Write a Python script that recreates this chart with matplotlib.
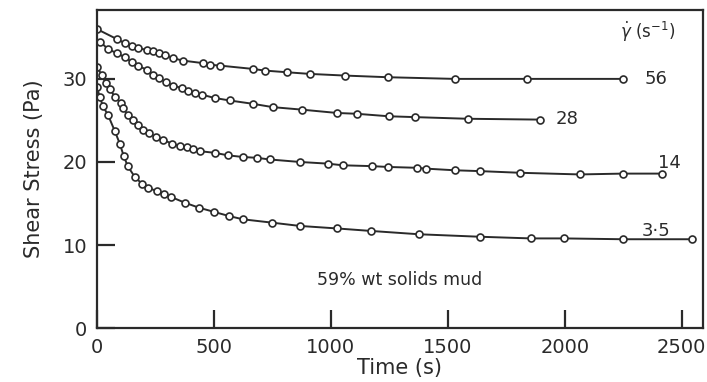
import numpy as np
import matplotlib
matplotlib.use("Agg")
import matplotlib.pyplot as plt

# data (time in s, shear stress in Pa)
t_56 = [0, 85, 120, 150, 175, 213, 240, 265, 290, 325, 368, 453, 483, 526, 667, 718,
        812, 910, 1060, 1244, 1530, 1838, 2248]
s_56 = [36.0, 34.8, 34.3, 34.0, 33.7, 33.5, 33.3, 33.1, 32.9, 32.5, 32.2, 31.9, 31.7,
        31.6, 31.2, 31.0, 30.8, 30.6, 30.4, 30.2, 30.0, 30.0, 30.0]

t_28 = [13, 47, 85, 120, 150, 175, 213, 240, 265, 295, 325, 363, 389, 419, 449, 504,
        568, 667, 752, 876, 1026, 1111, 1248, 1359, 1585, 1893]
s_28 = [34.5, 33.6, 33.1, 32.6, 32.0, 31.6, 31.1, 30.5, 30.1, 29.6, 29.2, 28.9, 28.6,
        28.3, 28.1, 27.7, 27.4, 27.0, 26.6, 26.3, 25.9, 25.8, 25.5, 25.4, 25.2, 25.1]

t_14 = [0, 21, 38, 56, 77, 103, 111, 132, 154, 175, 197, 222, 252, 282, 320, 355, 385,
        410, 440, 504, 560, 624, 684, 739, 868, 987, 1051, 1175, 1244, 1367, 1406, 1530,
        1637, 1808, 2064, 2248, 2415]
s_14 = [31.4, 30.5, 29.5, 28.8, 27.8, 27.1, 26.5, 25.7, 25.1, 24.5, 23.9, 23.5, 23.0,
        22.7, 22.2, 21.9, 21.8, 21.6, 21.3, 21.1, 20.8, 20.6, 20.5, 20.3, 20.0, 19.8,
        19.6, 19.5, 19.4, 19.3, 19.2, 19.0, 18.9, 18.7, 18.5, 18.6, 18.6]

t_35 = [0, 13, 26, 47, 77, 98, 115, 132, 162, 192, 218, 256, 286, 316, 376, 436, 500,
        564, 624, 748, 868, 1026, 1171, 1376, 1637, 1855, 1996, 2248, 2543]
s_35 = [29.0, 27.8, 26.7, 25.7, 23.7, 22.2, 20.7, 19.5, 18.2, 17.4, 16.9, 16.5, 16.2,
        15.8, 15.1, 14.5, 14.0, 13.5, 13.1, 12.7, 12.3, 12.0, 11.7, 11.3, 11.0, 10.8,
        10.8, 10.7, 10.7]

rate_labels = ["56", "28", "14", "3·5"]
label_pos = [(2340, 30.0), (1960, 25.2), (2400, 19.9), (2330, 11.7)]

ink = "#2a2a2a"
plt.rcParams['font.family'] = ['DejaVu Sans']

fig = plt.figure(figsize=(7.07, 3.82), dpi=100)
ax = fig.add_axes([0.137, 0.141, 0.857, 0.833])

curves = [(t_56, s_56), (t_28, s_28), (t_14, s_14), (t_35, s_35)]
for (t, s) in curves:
    ax.plot(t, s, color=ink, lw=1.4, marker='o', ms=5, mfc='white', mec=ink, mew=1.2)

for lab, (x, y) in zip(rate_labels, label_pos):
    ax.text(x, y, lab, fontsize=13, color=ink, va='center', ha='left')

ax.text(2355, 35.7, r"$\dot{\gamma}$ (s$^{-1}$)", fontsize=12, color=ink, ha='center', va='center')
ax.text(1295, 5.8, "59% wt solids mud", fontsize=12.5, color=ink, ha='center', va='center')

ax.set_xlim(0, 2590)
ax.set_ylim(0, 38.3)
ax.set_xticks([0, 500, 1000, 1500, 2000, 2500])
ax.set_yticks([0, 10, 20, 30])
ax.tick_params(axis='both', direction='in', length=13, width=1.6, colors=ink,
               labelsize=14, pad=7)
for sp in ax.spines.values():
    sp.set_linewidth(1.6)
    sp.set_color(ink)

ax.set_xlabel("Time (s)", fontsize=15, color=ink, labelpad=1)
ax.set_ylabel("Shear Stress (Pa)", fontsize=15, color=ink, labelpad=13)

fig.savefig("out.png", dpi=100, facecolor='white')
